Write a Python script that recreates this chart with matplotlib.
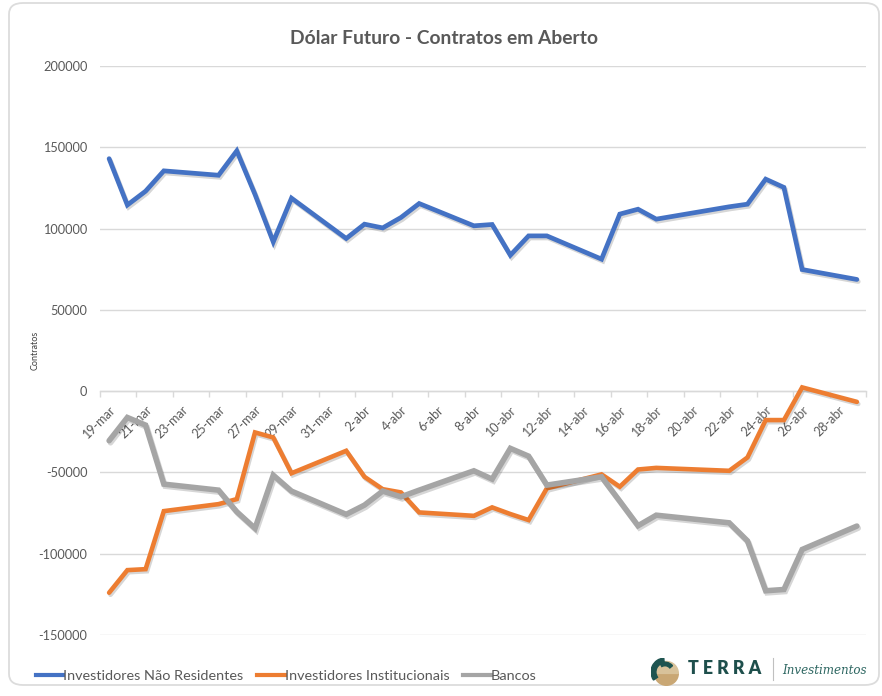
import datetime as dt
import numpy as np
import matplotlib
matplotlib.use("Agg")
import matplotlib.pyplot as plt
import matplotlib.patheffects as pe
from matplotlib.patches import FancyBboxPatch, Wedge
from matplotlib.lines import Line2D

plt.rcParams["font.family"] = ["Lato", "DejaVu Sans"]
plt.rcParams["axes.unicode_minus"] = False

# ── data ──────────────────────────────────────────────────────────────────
dates = ["2019-03-19", "2019-03-20", "2019-03-21", "2019-03-22", "2019-03-25",
         "2019-03-26", "2019-03-27", "2019-03-28", "2019-03-29", "2019-04-01",
         "2019-04-02", "2019-04-03", "2019-04-04", "2019-04-05", "2019-04-08",
         "2019-04-09", "2019-04-10", "2019-04-11", "2019-04-12", "2019-04-15",
         "2019-04-16", "2019-04-17", "2019-04-18", "2019-04-22", "2019-04-23",
         "2019-04-24", "2019-04-25", "2019-04-26", "2019-04-29"]
nao_residentes = [143000, 114500, 123000, 135500, 132800, 147800, 121000, 91800,
                  118700, 93900, 102700, 100400, 106800, 115400, 101700, 102500,
                  83600, 95500, 95500, 81200, 108900, 111900, 105800, 113400,
                  115000, 130400, 125300, 74800, 68700]
institucionais = [-124000, -110100, -109500, -73800, -69500, -66400, -25400,
                  -28500, -50500, -36700, -52700, -60300, -62300, -74600, -76700,
                  -71500, -75600, -79300, -59800, -51200, -58800, -48200, -47200,
                  -49000, -40800, -17800, -17800, 2300, -6600]
bancos = [-30500, -16200, -20900, -57200, -60900, -74200, -84400, -51700, -61500,
          -75800, -70100, -61500, -65000, -60900, -49000, -54100, -35200, -40000,
          -57800, -52700, -67700, -82800, -76300, -81000, -92100, -122800, -122000,
          -97400, -83000]
series_names = ["Investidores Não Residentes", "Investidores Institucionais", "Bancos"]
meses = {3: "mar", 4: "abr"}
y_ticks = [-150000, -100000, -50000, 0, 50000, 100000, 150000, 200000]

# ── figure ────────────────────────────────────────────────────────────────
fig = plt.figure(figsize=(8.82, 6.96), dpi=100, facecolor="white")
W, H = 882, 696

# rounded card behind everything
frame = FancyBboxPatch((9 / W, 11 / H), 870 / W, 682 / H,
                       boxstyle="round,pad=0,rounding_size=0.016",
                       transform=fig.transFigure, facecolor="white",
                       edgecolor="#dcdcdc", linewidth=1.3, zorder=-5)
fig.patches.append(frame)

ax = fig.add_axes([100 / W, 1 - 635 / H, 766 / W, 569 / H])
ax.set_facecolor("none")

x = [dt.datetime.strptime(d, "%Y-%m-%d") for d in dates]
colors = ["#4472C4", "#ED7D31", "#A5A5A5"]
widths = [3.4, 3.3, 4.0]
shadow = [pe.SimpleLineShadow(offset=(1, -1.5), shadow_color="#000000", alpha=0.16),
          pe.Normal()]
for vals, c, lw, name in zip([nao_residentes, institucionais, bancos], colors,
                             widths, series_names):
    ax.plot(x, vals, color=c, lw=lw, solid_joinstyle="miter",
            solid_capstyle="round", path_effects=shadow, label=name, zorder=3)

# ── axes styling ─────────────────────────────────────────────────────────
start = x[0]
end = x[-1]
half = dt.timedelta(hours=12)
ax.set_xlim(start - half, end + half)
ax.set_ylim(-150000, 200000)
ax.set_yticks(y_ticks)
ax.set_yticklabels([str(v) for v in y_ticks])
ax.grid(axis="y", color="#d9d9d9", lw=1.0)
ax.set_axisbelow(True)
ax.tick_params(axis="y", length=0, pad=9, labelsize=9.2, labelcolor="#595959")

for s in ["top", "right", "left"]:
    ax.spines[s].set_visible(False)
ax.spines["bottom"].set_position(("data", 0))
ax.spines["bottom"].set_color("#d9d9d9")
ax.spines["bottom"].set_linewidth(1.0)

n_days = (end - start).days
label_days = [start + dt.timedelta(days=i) for i in range(0, n_days + 1, 2)]
ax.set_xticks(label_days)
ax.set_xticklabels([f"{d.day}-{meses[d.month]}" for d in label_days],
                   rotation=45, ha="right", va="top", rotation_mode="anchor")
ax.tick_params(axis="x", which="major", length=0, pad=9, labelsize=9.0,
               labelcolor="#595959")
bounds = [start - half + dt.timedelta(days=i) for i in range(0, n_days + 2, 2)]
ax.set_xticks(bounds, minor=True)
ax.tick_params(axis="x", which="minor", length=4, width=1.0, color="#d9d9d9",
               direction="out")

fig.text(35 / W, 1 - 350 / H, "Contratos", rotation=90, ha="center",
         va="center", fontsize=6.5, color="#404040")

fig.text(444 / W, 1 - 38 / H, "Dólar Futuro - Contratos em Aberto",
         ha="center", va="center", fontsize=13.9, fontweight="bold",
         color="#595959")

# ── legend ────────────────────────────────────────────────────────────────
handles = [Line2D([], [], color=c, lw=3.0) for c in colors]
fig.legend(handles, series_names, loc="center left",
           bbox_to_anchor=(23 / W, 1 - 676 / H), ncol=3, frameon=False,
           fontsize=10.4, labelcolor="#595959", handlelength=1.9,
           handletextpad=0.0, columnspacing=0.95)

# ── logo ──────────────────────────────────────────────────────────────────
lax = fig.add_axes([651 / W, 1 - 686 / H, 28 / W, 28 / H])
lax.set_xlim(-1, 1)
lax.set_ylim(-1, 1)
lax.set_aspect("equal")
lax.axis("off")
lax.add_patch(Wedge((0.1, -0.1), 0.85, 180, 360, color="#c9a774"))
lax.add_patch(Wedge((0.1, -0.1), 0.85, 0, 180, color="#d8c29a"))
lax.add_patch(Wedge((0, 0), 1.0, 95, 215, width=0.35, color="#1e5450"))
lax.add_patch(Wedge((0, 0), 0.7, 40, 120, width=0.25, color="#1e5450"))

fig.text(688 / W, 1 - 668 / H, "T E R R A", ha="left", va="center",
         fontsize=12.8, fontweight="heavy", color="#1e4f4c")
fig.add_artist(Line2D([773 / W, 773 / W], [1 - 658 / H, 1 - 680 / H],
                      color="#c0c0c0", lw=0.8))
fig.text(782 / W, 1 - 671 / H, "Investimentos", ha="left",
         va="center", fontsize=8.6, style="italic", color="#2d6661",
         family="DejaVu Serif")

fig.savefig("out.png", dpi=100, facecolor="white")
